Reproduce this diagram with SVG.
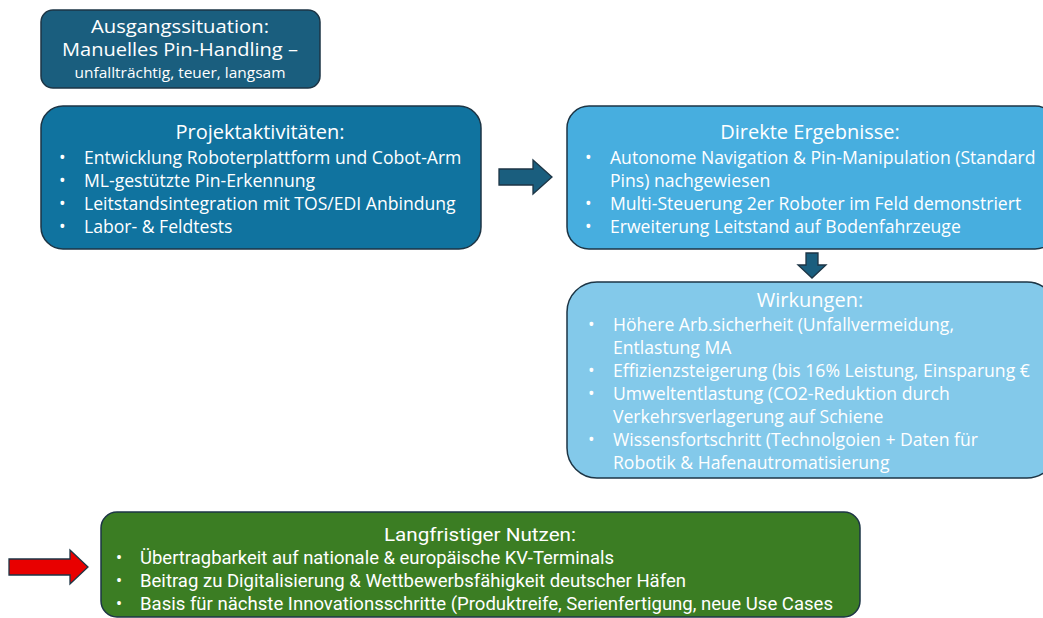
<svg xmlns="http://www.w3.org/2000/svg" width="1043" height="618" viewBox="0 0 1043 618">
<style>
.box{stroke:#1d3545;stroke-width:1.5}
.t{font-family:"Open Sans","Noto Sans",sans-serif;fill:#ffffff}
.h{font-size:20px;text-anchor:middle}
.b{font-size:17.6px}
.g{font-family:Roboto,"Liberation Sans",sans-serif;fill:#ffffff;font-size:18px}
.arr{stroke:#1d3545;stroke-width:1.3}
</style>
<rect width="1043" height="618" fill="#ffffff"/>
<g id="ausgang">
<rect class="box" x="41" y="10" width="279" height="78" rx="12" fill="#1a5e7e"/>
<text class="t" x="180" y="33" font-size="19" text-anchor="middle" textLength="178" lengthAdjust="spacingAndGlyphs">Ausgangssituation:</text>
<text class="t" x="180" y="56" font-size="19" text-anchor="middle" textLength="236" lengthAdjust="spacingAndGlyphs">Manuelles Pin-Handling –</text>
<text class="t" x="180" y="78" font-size="15" text-anchor="middle" textLength="211" lengthAdjust="spacingAndGlyphs">unfallträchtig, teuer, langsam</text>
</g>
<g id="projekt">
<rect class="box" x="41" y="106" width="440" height="143" rx="22" fill="#10739f"/>
<text class="t h" x="260" y="139">Projektaktivitäten:</text>
<g class="t b">
<text x="59" y="164">•</text><text x="84" y="164">Entwicklung Roboterplattform und Cobot-Arm</text>
<text x="59" y="187">•</text><text x="84" y="187">ML-gestützte Pin-Erkennung</text>
<text x="59" y="210">•</text><text x="84" y="210">Leitstandsintegration mit TOS/EDI Anbindung</text>
<text x="59" y="233">•</text><text x="84" y="233">Labor- &amp; Feldtests</text>
</g>
</g>
<g id="ergebnisse">
<rect class="box" x="567" y="106" width="490" height="143" rx="22" fill="#47aedf"/>
<text class="t h" x="810" y="139">Direkte Ergebnisse:</text>
<g class="t b">
<text x="585" y="164">•</text><text x="610" y="164">Autonome Navigation &amp; Pin-Manipulation (Standard</text>
<text x="610" y="187">Pins) nachgewiesen</text>
<text x="585" y="210">•</text><text x="610" y="210">Multi-Steuerung 2er Roboter im Feld demonstriert</text>
<text x="585" y="233">•</text><text x="610" y="233">Erweiterung Leitstand auf Bodenfahrzeuge</text>
</g>
</g>
<g id="wirkungen">
<rect class="box" x="567" y="282" width="490" height="196" rx="30" fill="#83c9ea"/>
<text class="t h" x="810" y="307">Wirkungen:</text>
<g class="t b">
<text x="588" y="331">•</text><text x="613" y="331">Höhere Arb.sicherheit (Unfallvermeidung,</text>
<text x="613" y="354">Entlastung MA</text>
<text x="588" y="377">•</text><text x="613" y="377">Effizienzsteigerung (bis 16% Leistung, Einsparung €</text>
<text x="588" y="400">•</text><text x="613" y="400">Umweltentlastung (CO2-Reduktion durch</text>
<text x="613" y="423">Verkehrsverlagerung auf Schiene</text>
<text x="588" y="446">•</text><text x="613" y="446">Wissensfortschritt (Technolgoien + Daten für</text>
<text x="613" y="469">Robotik &amp; Hafenautromatisierung</text>
</g>
</g>
<g id="nutzen">
<rect class="box" x="101" y="512" width="759" height="105" rx="16" fill="#3b7d23"/>
<text class="g" x="480" y="541" font-size="20" text-anchor="middle" textLength="192" lengthAdjust="spacingAndGlyphs">Langfristiger Nutzen:</text>
<text class="g" x="116" y="564">•</text><text class="g" x="140" y="564" textLength="474" lengthAdjust="spacingAndGlyphs">Übertragbarkeit auf nationale &amp; europäische KV-Terminals</text>
<text class="g" x="116" y="587">•</text><text class="g" x="140" y="587" textLength="546" lengthAdjust="spacingAndGlyphs">Beitrag zu Digitalisierung &amp; Wettbewerbsfähigkeit deutscher Häfen</text>
<text class="g" x="116" y="610">•</text><text class="g" x="140" y="610" textLength="693" lengthAdjust="spacingAndGlyphs">Basis für nächste Innovationsschritte (Produktreife, Serienfertigung, neue Use Cases</text>
</g>
<g id="connectors">
<path class="arr" d="M499,169 H533 V160 L552,177 L533,194 V185 H499 Z" fill="#1a5e7e"/>
<path class="arr" d="M806,253 H818 V265 H826 L812,278 L798,265 H806 Z" fill="#1a5e7e"/>
<path class="arr" d="M9,559 H70 V550 L88,567 L70,584 V575 H9 Z" fill="#e80000"/>
</g>
</svg>
